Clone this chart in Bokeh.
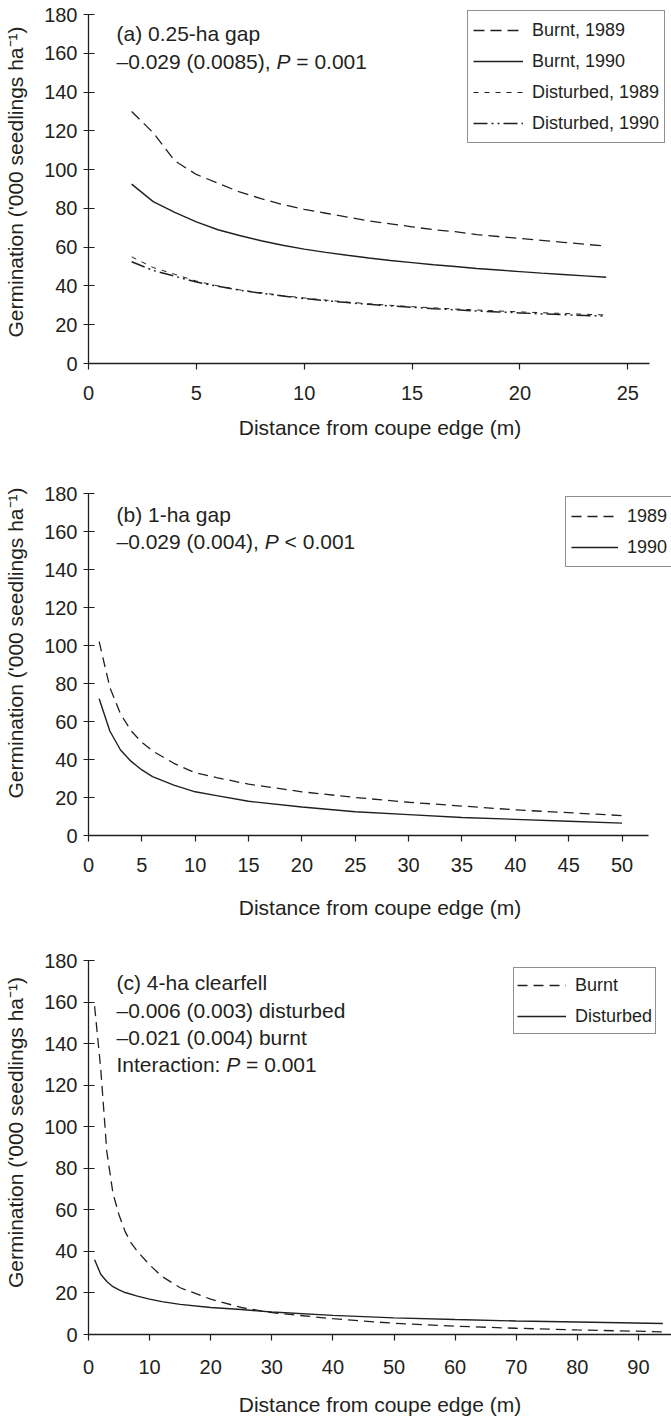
from bokeh.plotting import figure
from bokeh.models import Legend, LegendItem, Label, FixedTicker, Range1d
from bokeh.layouts import column
from bokeh.embed import file_html
from bokeh.resources import INLINE

INK = "#231f20"
FONT = "'Liberation Sans', Arial, Helvetica, sans-serif"

# ---- (a) 0.25-ha gap ----
a_dist = [2, 3, 4, 5, 6, 7, 8, 9, 10, 11, 12, 13, 14, 15, 16, 17, 18, 19, 20, 21, 22, 23, 24]
a_burnt_1989 = [130, 119, 104.5, 97.5, 93, 88.5, 85, 82, 79.5, 77.5, 75.5, 73.5, 72, 70.5,
                69, 68, 66.5, 65.5, 64.5, 63.5, 62.5, 61.5, 60.5]
a_burnt_1990 = [92.5, 83.5, 78, 73, 69, 66, 63.3, 61, 59, 57.3, 55.8, 54.4, 53.1, 52,
                50.9, 50, 49, 48.2, 47.4, 46.6, 45.9, 45.2, 44.5]
a_dist_1989 = [55, 49.5, 46, 42.5, 40, 38, 36.5, 35, 33.8, 32.7, 31.7, 30.8, 30, 29.3,
               28.7, 28.1, 27.6, 27.1, 26.6, 26.2, 25.8, 25.4, 25]
a_dist_1990 = [52.5, 48, 45, 42, 39.8, 37.8, 36.2, 34.8, 33.5, 32.4, 31.4, 30.5, 29.7, 29,
               28.3, 27.7, 27.1, 26.6, 26.1, 25.6, 25.2, 24.8, 24.4]
a_ticks = [0, 5, 10, 15, 20, 25]

# ---- (b) 1-ha gap ----
b_dist = [1, 2, 3, 4, 5, 6, 8, 10, 12, 15, 20, 25, 30, 35, 40, 45, 50]
b_1989 = [102, 78, 64, 55, 49, 44.5, 38, 33, 30.5, 27, 23, 20, 17.5, 15.5, 13.5, 12, 10.5]
b_1990 = [72, 55, 45, 39, 34.5, 31, 26.5, 23, 21, 18, 15, 12.5, 11, 9.5, 8.5, 7.5, 6.5]
b_ticks = [0, 5, 10, 15, 20, 25, 30, 35, 40, 45, 50]

# ---- (c) 4-ha clearfell ----
c_dist_burnt = [1, 2, 3, 4, 5, 6, 7, 8, 10, 12, 15, 20, 25, 30, 40, 50, 60, 70, 80, 94]
c_burnt = [158, 128, 88, 68, 57.5, 49.5, 44, 40, 33.5, 28, 22.5, 17, 13, 10.5, 7.6, 5.4,
           4, 3, 2.2, 1.3]
c_dist_disturbed = [1, 2, 3, 4, 5, 6, 8, 10, 12, 15, 20, 25, 30, 40, 50, 60, 70, 80, 94]
c_disturbed = [36, 29, 25.5, 23, 21.5, 20.2, 18.5, 17, 15.8, 14.5, 13, 12, 10.8, 9.2, 8,
               7.2, 6.5, 6, 5.3]
c_ticks = [0, 10, 20, 30, 40, 50, 60, 70, 80, 90]

y_ticks = [0, 20, 40, 60, 80, 100, 120, 140, 160, 180]
y_label = "Germination ('000 seedlings ha\u207b\u00b9)"
x_label = "Distance from coupe edge (m)"

# Arial / Liberation Sans advance widths (em) used to chain mixed-style text runs
ARIAL_W = {
    "\u2013": 0.556, ".": 0.278, " ": 0.278, "\u00a0": 0.278, "(": 0.333, ")": 0.333,
    ",": 0.278, ":": 0.278, "I": 0.278, "n": 0.556, "t": 0.278, "e": 0.556, "r": 0.333,
    "a": 0.556, "c": 0.5, "i": 0.222, "o": 0.556, "P": 0.667,
}


def text_width(s, size):
    return sum(ARIAL_W.get(ch, 0.556) for ch in s) * size


ANN_SIZE = 21
FRAME_LEFT = 88
FRAME_W = 671 - FRAME_LEFT


def make_panel(height, bottom, px_x, px_y, x_axis_end, x_ticks, tick_standoff, title_standoff):
    """Frame fills everything right of the y axis and above the x axis; axis
    bounds keep the drawn axes at their data extent."""
    frame_h = height - bottom
    x_end = FRAME_W / px_x
    y_end = frame_h / px_y
    p = figure(width=671, height=height, x_range=Range1d(0, x_end), y_range=Range1d(0, y_end),
               output_backend="svg", toolbar_location=None,
               min_border_left=FRAME_LEFT, min_border_right=0,
               min_border_top=0, min_border_bottom=bottom)
    p.outline_line_color = None
    p.grid.visible = False
    p.background_fill_color = "white"
    p.border_fill_color = "white"

    for ax in (p.xaxis[0], p.yaxis[0]):
        ax.axis_line_color = INK
        ax.axis_line_width = 1.3
        ax.major_tick_line_color = INK
        ax.major_tick_line_width = 1.2
        ax.minor_tick_line_color = None
        ax.major_label_text_font = FONT
        ax.major_label_text_font_size = "20px"
        ax.major_label_text_color = INK
        ax.axis_label_text_font = FONT
        ax.axis_label_text_font_size = "21px"
        ax.axis_label_text_font_style = "normal"
        ax.axis_label_text_color = INK

    xa = p.xaxis[0]
    xa.ticker = FixedTicker(ticks=x_ticks)
    xa.bounds = (0, min(x_axis_end, x_end))
    xa.major_tick_out = 6
    xa.major_tick_in = 0
    xa.major_label_standoff = tick_standoff
    xa.axis_label = x_label
    xa.axis_label_standoff = title_standoff

    ya = p.yaxis[0]
    ya.ticker = FixedTicker(ticks=y_ticks)
    ya.bounds = (0, 180)
    ya.major_tick_out = 5
    ya.major_tick_in = 6
    ya.major_label_standoff = 6
    ya.axis_label = y_label
    ya.axis_label_standoff = 14
    return p


def annotate(p, bottom_y, lines):
    """lines: list of (text centre y, [(text, style), ...]); y is counted from
    the top of the panel, the x axis sits at bottom_y."""
    cap = 0.716 * ANN_SIZE
    for cy, runs in lines:
        x = 116 - FRAME_LEFT
        y = bottom_y - cy - cap / 2
        for txt, style in runs:
            p.add_layout(Label(x=x, y=y, x_units="screen", y_units="screen", text=txt,
                               text_font=FONT, text_font_size=f"{ANN_SIZE}px",
                               text_font_style=style, text_color=INK,
                               text_baseline="alphabetic", text_align="left"))
            x += text_width(txt, ANN_SIZE)


def add_legend(p, items, box_left, box_bottom_from_axis, glyph_w, pad):
    leg = Legend(items=items, location=(box_left - FRAME_LEFT, box_bottom_from_axis),
                 orientation="vertical",
                 label_text_font=FONT, label_text_font_size="18px", label_text_color=INK,
                 glyph_width=glyph_w, glyph_height=28, label_height=28, label_standoff=9,
                 padding=pad, spacing=3, margin=0,
                 border_line_color=INK, border_line_width=1.2,
                 background_fill_color="white", background_fill_alpha=1.0)
    p.add_layout(leg, "center")


# ---------- panel (a) ----------
pa = make_panel(450, 87, 21.57, 349 / 180, 26, a_ticks, 16, 13)
r_b89 = pa.line(a_dist, a_burnt_1989, line_color=INK, line_width=1.3, line_dash="11 6")
r_b90 = pa.line(a_dist, a_burnt_1990, line_color=INK, line_width=1.4)
r_d89 = pa.line(a_dist, a_dist_1989, line_color=INK, line_width=1.0, line_dash="5 6")
r_d90 = pa.line(a_dist, a_dist_1990, line_color=INK, line_width=1.5, line_dash="14 4 2 4 2 4")
add_legend(pa, [LegendItem(label="Burnt, 1989", renderers=[r_b89]),
                LegendItem(label="Burnt, 1990", renderers=[r_b90]),
                LegendItem(label="Disturbed, 1989", renderers=[r_d89]),
                LegendItem(label="Disturbed, 1990", renderers=[r_d90])],
           467, 363 - 143, 50, 5)
annotate(pa, 363, [
    (25, [("(a) 0.25-ha gap", "normal")]),
    (53, [("\u20130.029 (0.0085), ", "normal"), ("P", "italic"), ("\u00a0= 0.001", "normal")]),
])

# ---------- panel (b) ----------
pb = make_panel(480, 95, 10.67, 342 / 180, 52.5, b_ticks, 16, 21)
r_89 = pb.line(b_dist, b_1989, line_color=INK, line_width=1.3, line_dash="10 6")
r_90 = pb.line(b_dist, b_1990, line_color=INK, line_width=1.4)
add_legend(pb, [LegendItem(label="1989", renderers=[r_89]),
                LegendItem(label="1990", renderers=[r_90])],
           565, 385 - 117, 47, 5)
annotate(pb, 385, [
    (56, [("(b) 1-ha gap", "normal")]),
    (83, [("\u20130.029 (0.004), ", "normal"), ("P", "italic"), ("\u00a0< 0.001", "normal")]),
])

# ---------- panel (c) ----------
pc = make_panel(488, 84, 6.11, 374 / 180, 200, c_ticks, 19, 16)
r_burnt = pc.line(c_dist_burnt, c_burnt, line_color=INK, line_width=1.3, line_dash="10 6")
r_dist = pc.line(c_dist_disturbed, c_disturbed, line_color=INK, line_width=1.4)
add_legend(pc, [LegendItem(label="Burnt", renderers=[r_burnt]),
                LegendItem(label="Disturbed", renderers=[r_dist])],
           513, 404 - 104, 49, 3)
annotate(pc, 404, [
    (44, [("(c) 4-ha clearfell", "normal")]),
    (72, [("\u20130.006 (0.003) disturbed", "normal")]),
    (99, [("\u20130.021 (0.004) burnt", "normal")]),
    (126, [("Interaction: ", "normal"), ("P", "italic"), ("\u00a0= 0.001", "normal")]),
])

layout = column(pa, pb, pc, spacing=0)
open("out.html", "w").write(file_html(layout, INLINE))
